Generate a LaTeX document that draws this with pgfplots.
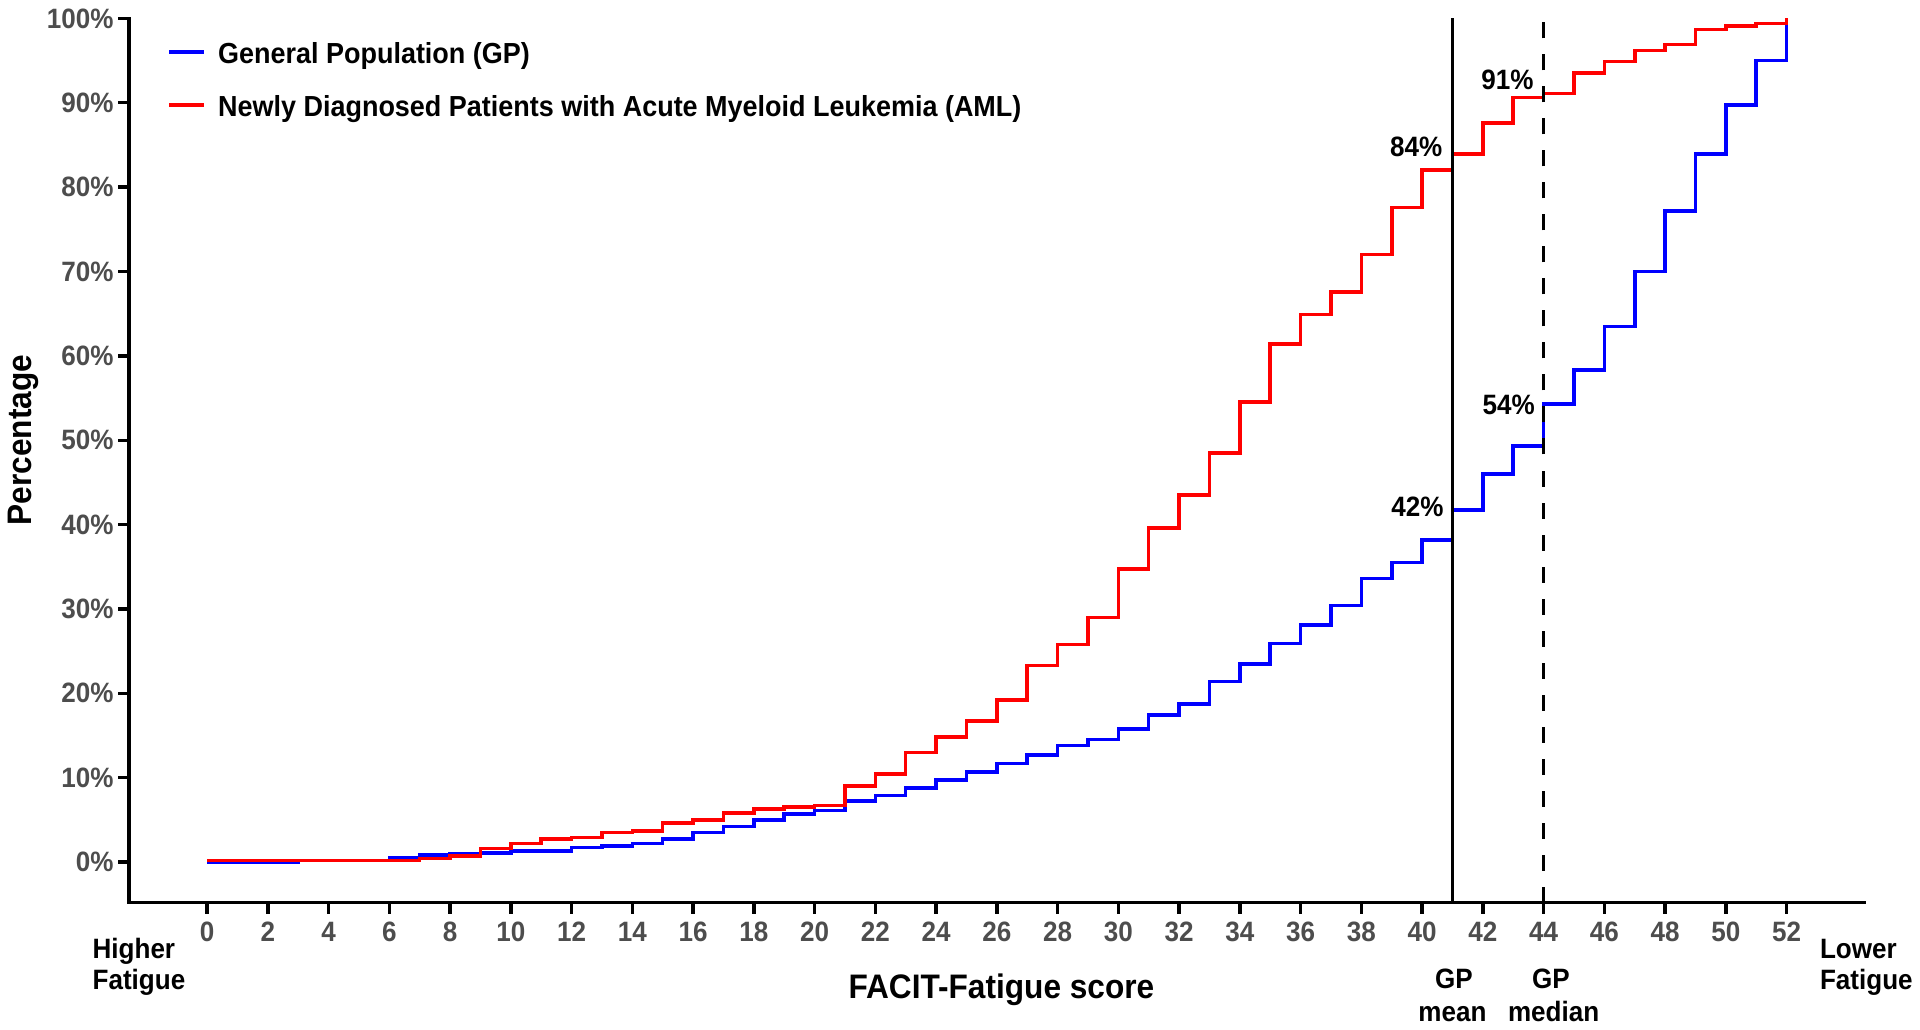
\documentclass[border=0pt]{standalone}
\usepackage{fontspec}
\setmainfont{Liberation Sans}[FakeStretch=0.93]
\usepackage{pgfplots}
\pgfplotsset{compat=1.18}
\definecolor{tickgray}{HTML}{4D4D4D}
\definecolor{gpblue}{RGB}{0,0,255}
\definecolor{amlred}{RGB}{255,0,0}
\newcommand{\lbl}{\fontsize{14}{16}\selectfont\bfseries}
\newcommand{\ttl}{\fontsize{17}{20}\selectfont\bfseries}
\begin{document}
\begin{tikzpicture}
\useasboundingbox (0,0) rectangle (960pt,514.5pt);
\begin{axis}[
  at={(64.5pt,63.25pt)}, anchor=south west,
  scale only axis, width=867.5pt, height=442.05pt,
  xmin=-2.57, xmax=54.55, ymin=-4.8, ymax=100,
  axis x line*=bottom, axis y line*=left,
  axis line style={line width=1.8pt, line cap=rect},
  clip=false,
  xtick={0,2,...,52},
  xticklabels={0,2,4,6,8,10,12,14,16,18,20,22,24,26,28,30,32,34,36,38,40,42,44,46,48,50,52},
  ytick={0,10,...,100},
  yticklabels={0\%,10\%,20\%,30\%,40\%,50\%,60\%,70\%,80\%,90\%,100\%},
  tick align=outside, major tick length=5.5pt,
  every tick/.style={black, line width=1.7pt},
  tick label style={font=\lbl, text=tickgray},
  xticklabel style={inner sep=0pt, anchor=north, yshift=-4pt},
  yticklabel style={inner sep=0pt, anchor=east, xshift=-2pt},
  xlabel={FACIT-Fatigue score},
  xlabel style={at={(axis description cs:0.5028,-0.1084)}, anchor=base, font=\ttl, inner sep=0pt},
  ylabel={Percentage},
  ylabel style={at={(axis description cs:-0.056,0.5229)}, anchor=base, font=\ttl, inner sep=0pt},
  legend style={at={(axis cs:-1.3,97.2)}, anchor=north west, draw=none, fill=none,
    inner sep=0pt, outer sep=0pt, row sep=14.6pt, column sep=6pt,
    font=\fontsize{14.5}{16}\selectfont\bfseries, nodes={inner sep=0pt}},
  legend cell align=left,
  legend image code/.code={\draw[#1, line width=1.8pt] (0pt,1pt) -- (17.5pt,1pt);},
]
\addplot[const plot, gpblue, line width=1.8pt] coordinates {
(0,0) (1,0) (2,0) (3,0.2) (4,0.2) (5,0.2) (6,0.5) (7,0.8) (8,1.0) (9,1.1)
(10,1.3) (11,1.3) (12,1.7) (13,1.9) (14,2.2) (15,2.7) (16,3.5) (17,4.2) (18,5.0) (19,5.7)
(20,6.1) (21,7.2) (22,7.9) (23,8.8) (24,9.7) (25,10.7) (26,11.7) (27,12.7) (28,13.8) (29,14.5)
(30,15.8) (31,17.4) (32,18.7) (33,21.4) (34,23.5) (35,25.9) (36,28.1) (37,30.4) (38,33.6) (39,35.5)
(40,38.2) (41,41.7) (42,46.0) (43,49.3) (44,54.3) (45,58.3) (46,63.5) (47,70.0) (48,77.2) (49,83.9)
(50,89.7) (51,95.0) (52,100)};
\addlegendentry{General Population (GP)}
\addplot[const plot, amlred, line width=1.8pt] coordinates {
(0,0.2) (1,0.2) (2,0.2) (3,0.2) (4,0.2) (5,0.2) (6,0.2) (7,0.4) (8,0.7) (9,1.6)
(10,2.2) (11,2.7) (12,2.9) (13,3.5) (14,3.7) (15,4.6) (16,5.0) (17,5.8) (18,6.3) (19,6.5)
(20,6.7) (21,9.0) (22,10.4) (23,13.0) (24,14.8) (25,16.7) (26,19.2) (27,23.3) (28,25.8) (29,29.0)
(30,34.7) (31,39.6) (32,43.5) (33,48.5) (34,54.5) (35,61.4) (36,64.9) (37,67.6) (38,72.0) (39,77.6)
(40,82.0) (41,83.9) (42,87.6) (43,90.6) (44,91.1) (45,93.5) (46,94.9) (47,96.2) (48,96.9) (49,98.7)
(50,99.1) (51,99.4) (52,100)};
\addlegendentry{Newly Diagnosed Patients with Acute Myeloid Leukemia (AML)}
\addplot[forget plot, black, line width=1.7pt] coordinates {(41,-4.8) (41,100)};
\addplot[forget plot, black, line width=1.7pt, dash pattern=on 8pt off 8pt] coordinates {(44,-4.8) (44,100)};
\node[anchor=east, font=\lbl, inner sep=0pt] at (axis cs:40.68,84.8) {84\%};
\node[anchor=east, font=\lbl, inner sep=0pt] at (axis cs:40.72,42.1) {42\%};
\node[anchor=east, font=\lbl, inner sep=0pt] at (axis cs:43.68,92.7) {91\%};
\node[anchor=east, font=\lbl, inner sep=0pt] at (axis cs:43.72,54.2) {54\%};
\node[anchor=base west, font=\lbl, inner sep=0pt] at (axis cs:-3.78,-11.38) {Higher};
\node[anchor=base west, font=\lbl, inner sep=0pt] at (axis cs:-3.78,-15.17) {Fatigue};
\node[anchor=base west, font=\lbl, inner sep=0pt] at (axis cs:53.09,-11.38) {Lower};
\node[anchor=base west, font=\lbl, inner sep=0pt] at (axis cs:53.09,-15.17) {Fatigue};
\node[anchor=base, font=\lbl, inner sep=0pt] at (axis cs:41.05,-14.94) {GP};
\node[anchor=base, font=\lbl, inner sep=0pt] at (axis cs:41,-18.85) {mean};
\node[anchor=base, font=\lbl, inner sep=0pt] at (axis cs:44.24,-14.94) {GP};
\node[anchor=base, font=\lbl, inner sep=0pt] at (axis cs:44.33,-18.85) {median};
\end{axis}
\end{tikzpicture}
\end{document}
